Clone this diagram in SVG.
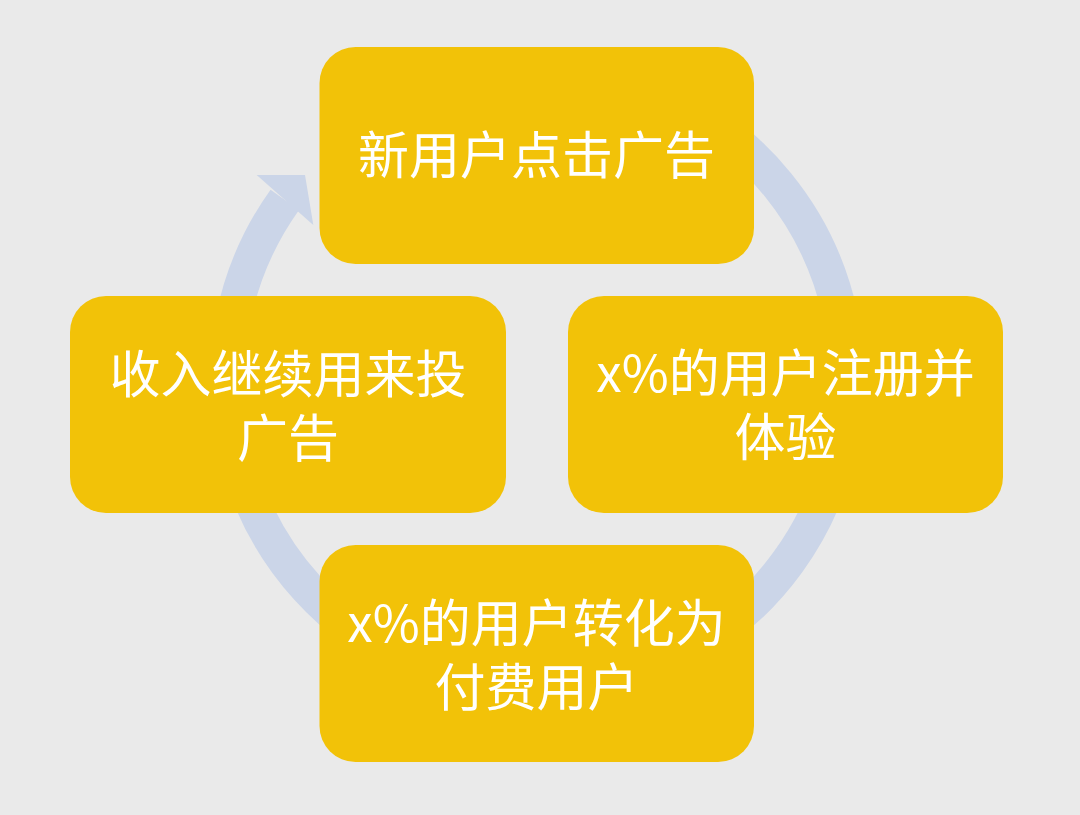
<svg xmlns="http://www.w3.org/2000/svg" width="1080" height="815" viewBox="0 0 1080 815">
  <style>
    .box { fill: #F2C208; }
    .lbl { fill: #FFFFFF; font-family: "Noto Sans CJK SC", "Noto Sans", sans-serif; font-size: 51px; text-anchor: middle; }
    .ring { fill: none; stroke: #CBD5E8; stroke-width: 35; }
    .head { fill: #CBD5E8; }
  </style>
  <rect width="1080" height="815" fill="#EAEAEA"/>
  <g id="connectors">
    <path class="ring" d="M 537 70 A 310 310 0 1 1 284.8 199.8"/>
    <polygon class="head" points="256.7,175 305,175 313.3,225"/>
  </g>
  <g id="node-top">
    <rect class="box" x="319.5" y="47" width="434.5" height="217" rx="36" ry="36"/>
    <text class="lbl" x="536.5" y="174">新用户点击广告</text>
  </g>
  <g id="node-right">
    <rect class="box" x="568" y="296" width="435" height="217" rx="36" ry="36"/>
    <text class="lbl" x="785.5" y="392">x%的用户注册并</text>
    <text class="lbl" x="785.5" y="456">体验</text>
  </g>
  <g id="node-bottom">
    <rect class="box" x="319.5" y="545" width="434.5" height="217" rx="36" ry="36"/>
    <text class="lbl" x="536.5" y="642">x%的用户转化为</text>
    <text class="lbl" x="536.5" y="706">付费用户</text>
  </g>
  <g id="node-left">
    <rect class="box" x="70" y="296" width="436" height="217" rx="36" ry="36"/>
    <text class="lbl" x="288" y="393">收入继续用来投</text>
    <text class="lbl" x="288" y="457">广告</text>
  </g>
</svg>
